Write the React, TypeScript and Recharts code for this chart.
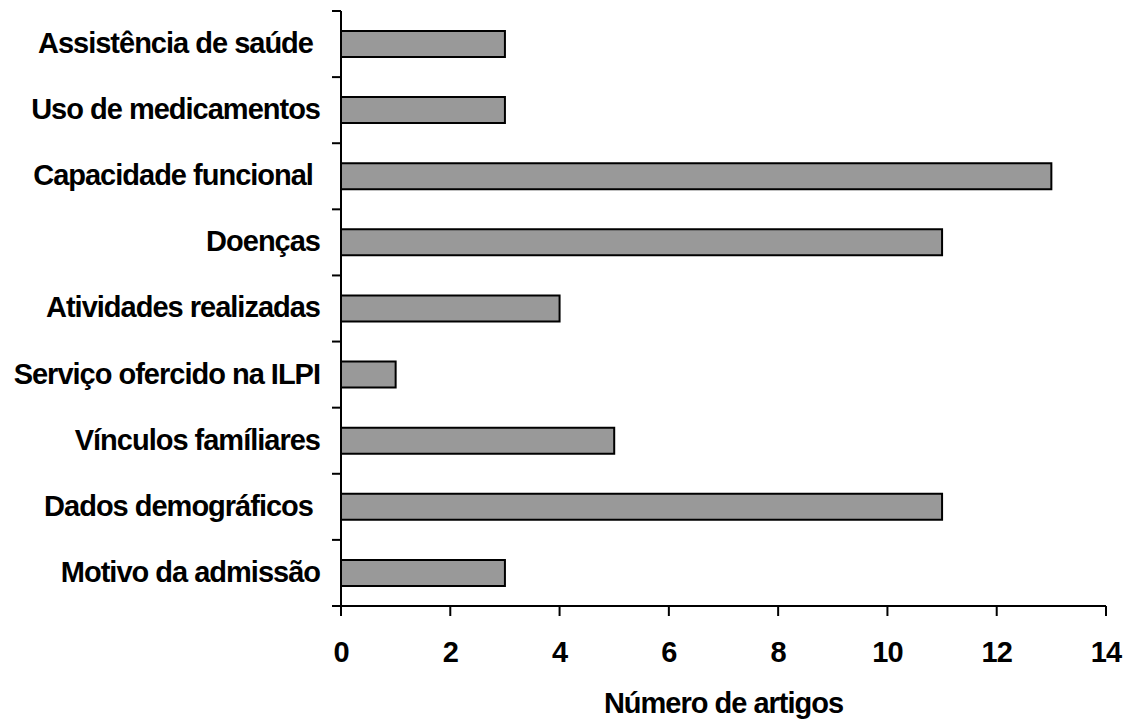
import React from 'react';
import { BarChart, Bar, XAxis, YAxis } from 'recharts';

const categories = [
  'Assistência de saúde ',
  'Uso de medicamentos',
  'Capacidade funcional ',
  'Doenças',
  'Atividades realizadas',
  'Serviço ofercido na ILPI',
  'Vínculos famíliares',
  'Dados demográficos ',
  'Motivo da admissão',
];
const articleCounts = [3, 3, 13, 11, 4, 1, 5, 11, 3];
const xTicks = [0, 2, 4, 6, 8, 10, 12, 14];
const xTitle = 'Número de artigos';

const FONT = '"Liberation Sans", Arial, sans-serif';
const W = 1133;
const H = 722;
const MARGIN = { top: 11, right: 27, bottom: 0, left: 0 };
const Y_AXIS_W = 341;
const X_AXIS_H = 116;
const TICK_LEN = 9;
const TICK_GAP = 21;
const LINE_W = 2;
const textStyle = { fontFamily: FONT, fontWeight: 700, fontSize: 29, letterSpacing: -1, fill: '#000' };

const data = categories.map((name, i) => ({ name, value: articleCounts[i] }));
const band = (H - MARGIN.top - MARGIN.bottom - X_AXIS_H) / categories.length;

// category label plus the small tick marks that sit between categories
const CategoryTick = (props: any) => {
  const { x, y, payload, index } = props;
  const axisX = x + TICK_GAP;
  const isLast = index === categories.length - 1;
  return (
    <g>
      <line x1={axisX - TICK_LEN} x2={axisX} y1={y - band / 2} y2={y - band / 2} stroke="#000" strokeWidth={LINE_W} />
      {isLast && (
        <line x1={axisX - TICK_LEN} x2={axisX} y1={y + band / 2} y2={y + band / 2} stroke="#000" strokeWidth={LINE_W} />
      )}
      <text x={x} y={y} dy="0.31em" textAnchor="end" xmlSpace="preserve" style={{ ...textStyle, whiteSpace: 'pre' }}>
        {payload.value}
      </text>
    </g>
  );
};

const AxisTitle = (props: any) => {
  const { viewBox } = props;
  if (!viewBox) return null;
  return (
    <text x={viewBox.x + viewBox.width / 2} y={viewBox.y + 107} textAnchor="middle" style={textStyle}>
      {xTitle}
    </text>
  );
};

const App: React.FC = () => {
  return (
    <div style={{ position: 'absolute', left: 0, top: 0, width: W, height: H, background: '#fff' }}>
      <BarChart width={W} height={H} data={data} layout="vertical" margin={MARGIN}>
        <YAxis
          type="category"
          dataKey="name"
          width={Y_AXIS_W}
          interval={0}
          axisLine={{ stroke: '#000', strokeWidth: LINE_W }}
          tickLine={false}
          tickSize={0}
          tickMargin={TICK_GAP}
          tick={<CategoryTick />}
        />
        <XAxis
          type="number"
          domain={[0, 14]}
          ticks={xTicks}
          interval={0}
          height={X_AXIS_H}
          tickSize={10}
          tickMargin={25}
          axisLine={{ stroke: '#000', strokeWidth: LINE_W }}
          tickLine={{ stroke: '#000', strokeWidth: LINE_W }}
          tick={textStyle}
          label={<AxisTitle />}
        />
        <Bar dataKey="value" barSize={26} fill="#999999" stroke="#000" strokeWidth={LINE_W} isAnimationActive={false} />
      </BarChart>
    </div>
  );
};

export default App;
